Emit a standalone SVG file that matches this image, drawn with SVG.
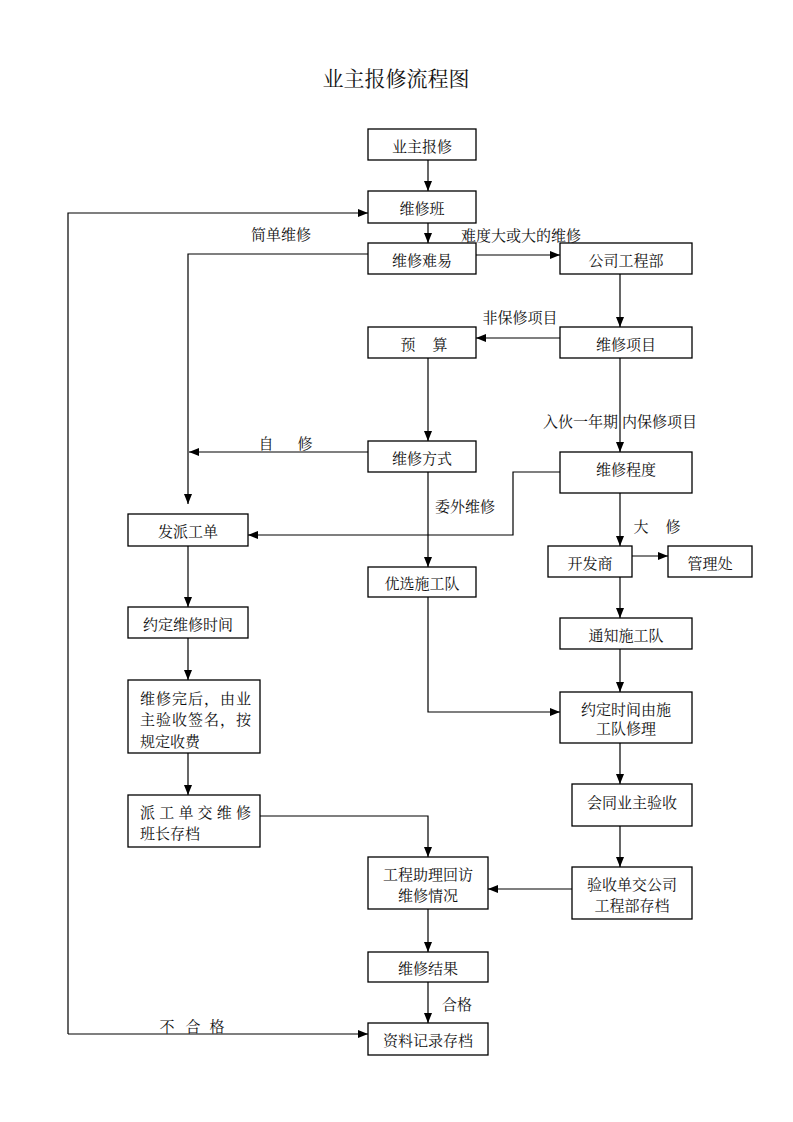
<svg xmlns="http://www.w3.org/2000/svg" width="793" height="1122" viewBox="0 0 793 1122">
<defs>
<marker id="ah" markerUnits="userSpaceOnUse" markerWidth="10" markerHeight="8" refX="10" refY="4" orient="auto">
<path d="M0,0 L10,4 L0,8 z" fill="#000"/>
</marker>
<style>
.b{fill:#fff;stroke:#000;stroke-width:1.3}
.t{font-family:"Noto Serif CJK SC","Noto Sans CJK SC",serif;font-size:15px;fill:#111;text-anchor:middle;dominant-baseline:central}
.l{font-family:"Noto Serif CJK SC","Noto Sans CJK SC",serif;font-size:15px;fill:#111;dominant-baseline:central}
.c{fill:none;stroke:#000;stroke-width:1.2}
.a{marker-end:url(#ah)}
</style>
</defs>
<rect width="793" height="1122" fill="#fff"/>
<text x="396" y="77" class="t" style="font-size:21px">业主报修流程图</text>

<g id="connectors">
<path class="c a" d="M428,160 L428,191"/>
<path class="c a" d="M428,223 L428,243"/>
<path class="c a" d="M476,255 L560,255"/>
<path class="c a" d="M368,254 L188,254 L188,504"/>
<path class="c a" d="M620,274 L620,327"/>
<path class="c a" d="M560,338 L476,338"/>
<path class="c a" d="M428,358 L428,441"/>
<path class="c a" d="M620,358 L620,452"/>
<path class="c a" d="M368,452 L189,452"/>
<path class="c a" d="M560,472 L513,472 L513,535 L248,535"/>
<path class="c a" d="M428,472 L428,567"/>
<path class="c a" d="M620,493 L620,546"/>
<path class="c a" d="M632,556 L668,556"/>
<path class="c a" d="M620,577 L620,618"/>
<path class="c a" d="M620,649 L620,692"/>
<path class="c a" d="M428,597 L428,712 L560,712"/>
<path class="c a" d="M188,546 L188,607"/>
<path class="c a" d="M188,638 L188,680"/>
<path class="c a" d="M188,753 L188,795"/>
<path class="c a" d="M620,743 L620,784"/>
<path class="c a" d="M620,826 L620,867"/>
<path class="c a" d="M572,889 L488,889"/>
<path class="c a" d="M260,816 L428,816 L428,857"/>
<path class="c a" d="M428,909 L428,952"/>
<path class="c a" d="M428,982 L428,1023"/>
<path class="c a" d="M68,1034 L68,213 L368,213"/>
<path class="c a" d="M68,1034 L368,1034"/>
<text x="281" y="233" class="t">简单维修</text>
<text x="521" y="234" class="t">难度大或大的维修</text>
<text x="520" y="316" class="t">非保修项目</text>
<text x="266" y="442" class="t">自</text>
<text x="305" y="442" class="t">修</text>
<text x="620" y="420" class="t">入伙一年期 内保修项目</text>
<text x="465" y="505" class="t">委外维修</text>
<text x="641" y="525" class="t">大</text>
<text x="673" y="525" class="t">修</text>
<text x="167" y="1025" class="t">不</text>
<text x="193" y="1025" class="t">合</text>
<text x="217" y="1025" class="t">格</text>
<text x="457" y="1003" class="t">合格</text>
</g>

<g id="n1"><rect class="b" x="368" y="129" width="108" height="31"/><text class="t" x="422" y="145">业主报修</text></g>
<g id="n2"><rect class="b" x="368" y="191" width="108" height="32"/><text class="t" x="422" y="207">维修班</text></g>
<g id="n3"><rect class="b" x="368" y="243" width="108" height="31"/><text class="t" x="422" y="259">维修难易</text></g>
<g id="n4"><rect class="b" x="560" y="243" width="132" height="31"/><text class="t" x="626" y="259">公司工程部</text></g>
<g id="n5"><rect class="b" x="368" y="327" width="108" height="31"/><text class="t" x="408" y="343">预</text><text class="t" x="440" y="343">算</text></g>
<g id="n6"><rect class="b" x="560" y="327" width="132" height="31"/><text class="t" x="626" y="343">维修项目</text></g>
<g id="n7"><rect class="b" x="368" y="441" width="108" height="31"/><text class="t" x="422" y="457">维修方式</text></g>
<g id="n8"><rect class="b" x="560" y="452" width="132" height="41"/><text class="t" x="626" y="468">维修程度</text></g>
<g id="n9"><rect class="b" x="128" y="514" width="120" height="32"/><text class="t" x="188" y="530">发派工单</text></g>
<g id="n10"><rect class="b" x="548" y="546" width="84" height="31"/><text class="t" x="590" y="562">开发商</text></g>
<g id="n11"><rect class="b" x="668" y="546" width="84" height="31"/><text class="t" x="710" y="562">管理处</text></g>
<g id="n12"><rect class="b" x="368" y="567" width="108" height="30"/><text class="t" x="422" y="582">优选施工队</text></g>
<g id="n13"><rect class="b" x="128" y="607" width="120" height="31"/><text class="t" x="188" y="623">约定维修时间</text></g>
<g id="n14"><rect class="b" x="560" y="618" width="132" height="31"/><text class="t" x="626" y="634">通知施工队</text></g>
<g id="n15"><rect class="b" x="128" y="680" width="132" height="73"/>
<text class="l" x="140" y="697" textLength="111" lengthAdjust="spacing">维修完后，由业</text>
<text class="l" x="140" y="718" textLength="111" lengthAdjust="spacing">主验收签名，按</text>
<text class="l" x="140" y="740">规定收费</text></g>
<g id="n16"><rect class="b" x="560" y="692" width="132" height="51"/><text class="t" x="626" y="708">约定时间由施</text><text class="t" x="626" y="727">工队修理</text></g>
<g id="n17"><rect class="b" x="572" y="784" width="120" height="42"/><text class="t" x="632" y="801">会同业主验收</text></g>
<g id="n18"><rect class="b" x="128" y="795" width="132" height="52"/>
<text class="l" x="140" y="811" textLength="111" lengthAdjust="spacing">派工单交维修</text>
<text class="l" x="140" y="832">班长存档</text></g>
<g id="n19"><rect class="b" x="368" y="857" width="120" height="52"/><text class="t" x="428" y="873">工程助理回访</text><text class="t" x="428" y="894">维修情况</text></g>
<g id="n20"><rect class="b" x="572" y="867" width="120" height="52"/><text class="t" x="632" y="883">验收单交公司</text><text class="t" x="632" y="904">工程部存档</text></g>
<g id="n21"><rect class="b" x="368" y="952" width="120" height="30"/><text class="t" x="428" y="967">维修结果</text></g>
<g id="n22"><rect class="b" x="368" y="1023" width="120" height="32"/><text class="t" x="428" y="1039">资料记录存档</text></g>
</svg>
